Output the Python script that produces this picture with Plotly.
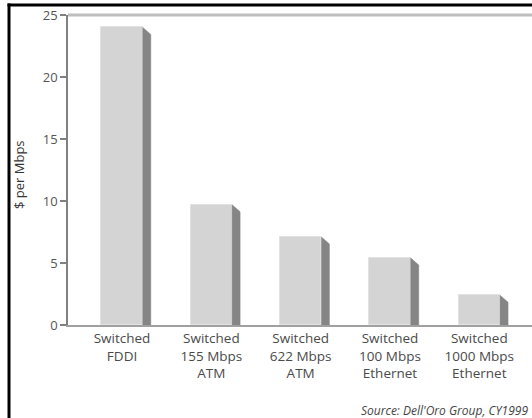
import plotly.graph_objects as go

categories = ["Switched<br>FDDI", "Switched<br>155 Mbps<br>ATM", "Switched<br>622 Mbps<br>ATM",
              "Switched<br>100 Mbps<br>Ethernet", "Switched<br>1000 Mbps<br>Ethernet"]
values = [24.0, 9.7, 7.1, 5.4, 2.4]
y_ticks = [0, 5, 10, 15, 20, 25]

W, H = 532, 418
ML, MR, MT, MB = 68, 0, 15, 93
plot_w = W - ML - MR
plot_h = H - MT - MB

x_range = [-0.605, 4.59]
y_range = [0, 25]
px_per_x = plot_w / (x_range[1] - x_range[0])
px_per_y = plot_h / (y_range[1] - y_range[0])

bar_w = 41.5 / px_per_x
side_dx = 8 / px_per_x
side_dy = 7 / px_per_y

xs = list(range(len(values)))

fig = go.Figure()
fig.add_trace(go.Bar(
    x=xs, y=values, width=bar_w,
    marker=dict(color="#d4d4d4", line=dict(color="#e2e2e2", width=1)),
    hoverinfo="skip", showlegend=False,
))

sx, sy = [], []
for x, v in zip(xs, values):
    r = x + bar_w / 2
    sx += [r, r + side_dx, r + side_dx, r, r, None]
    sy += [v, v - side_dy, 0, 0, v, None]
fig.add_trace(go.Scatter(
    x=sx, y=sy, mode="lines", fill="toself", fillcolor="#858585",
    line=dict(color="#858585", width=0.5), hoverinfo="skip", showlegend=False,
))

def px_to_paper_x(px):
    return (px - ML) / plot_w

def py_to_paper_y(py):
    return (H - MB - py) / plot_h

font_family = "Open Sans, Lato, sans-serif"

fig.update_layout(
    width=W, height=H,
    margin=dict(l=ML, r=MR, t=MT, b=MB, pad=0),
    paper_bgcolor="white", plot_bgcolor="white",
    font=dict(family=font_family, color="#555555", size=12),
    bargap=0,
    xaxis=dict(
        range=x_range, tickmode="array", tickvals=xs, ticktext=categories,
        showline=True, linecolor="#a0a0a0", linewidth=2, ticks="",
        showgrid=False, zeroline=False, fixedrange=True,
        tickfont=dict(size=13.5, color="#4a4a4a", family=font_family),
    ),
    yaxis=dict(
        range=y_range, tickmode="array", tickvals=y_ticks,
        showline=True, linecolor="#808080", linewidth=1.5,
        ticks="outside", ticklen=6, tickcolor="#808080", tickwidth=1.5,
        showgrid=False, zeroline=False, fixedrange=True,
        tickfont=dict(size=13, color="#555555", family=font_family),
    ),
    shapes=[
        dict(type="line", xref="paper", yref="paper", x0=0, x1=1, y0=1, y1=1,
             line=dict(color="#bdbdbd", width=3)),
        dict(type="line", xref="paper", yref="paper",
             x0=px_to_paper_x(9), x1=px_to_paper_x(9),
             y0=py_to_paper_y(H), y1=py_to_paper_y(3.5),
             line=dict(color="black", width=3)),
        dict(type="line", xref="paper", yref="paper",
             x0=px_to_paper_x(7.5), x1=1,
             y0=py_to_paper_y(5), y1=py_to_paper_y(5),
             line=dict(color="black", width=3)),
    ],
    annotations=[
        dict(text="$ per Mbps", xref="paper", yref="paper",
             x=px_to_paper_x(19), y=py_to_paper_y(175), textangle=-90,
             showarrow=False, xanchor="center", yanchor="middle",
             font=dict(size=13, color="#333333", family=font_family)),
        dict(text="<i>Source: Dell'Oro Group, CY1999</i>", xref="paper", yref="paper",
             x=px_to_paper_x(530), y=py_to_paper_y(410), showarrow=False,
             xanchor="right", yanchor="middle",
             font=dict(size=12, color="#444444", family=font_family)),
    ],
)

fig.write_html("out.html", config={"displayModeBar": False})
